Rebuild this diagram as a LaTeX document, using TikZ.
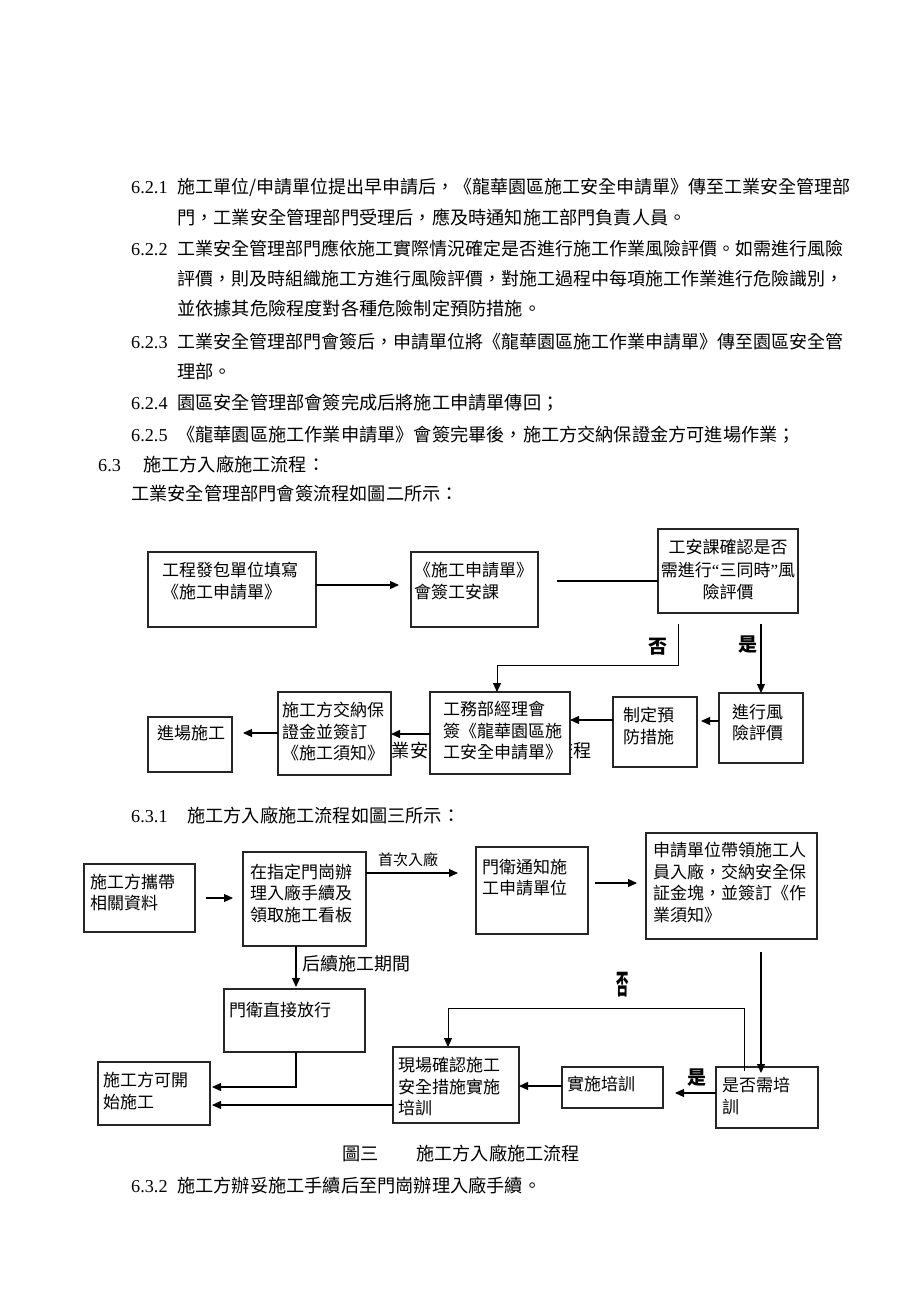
\documentclass[tikz,border=0pt]{standalone}
\usepackage{graphicx}
\usepackage{fontspec}
\setmainfont{Liberation Serif}
\newfontfamily\cjk{Noto Sans CJK TC}
\usetikzlibrary{arrows.meta,calc}
\tikzset{
  box/.style={draw=black!85, line width=1.1pt, fill=white, inner sep=0pt, outer sep=0pt},
  arr/.style={line width=1.2pt, -{Triangle[length=9pt,width=8pt]}},
  thinarr/.style={line width=0.9pt, -{Triangle[length=9pt,width=8pt]}},
  ln/.style={line width=1.1pt},
  tb/.style={font=\cjk\fontsize{17}{21.7}\selectfont, inner sep=0pt, anchor=base west},
  tp/.style={font=\cjk\fontsize{18.2}{29.7}\selectfont, inner sep=0pt, anchor=base west},
  jst/.style={font=\cjk\fontsize{18}{29.7}\selectfont, inner sep=0pt, text width=678pt, align=justify},
  num/.style={font=\fontsize{18.2}{22}\selectfont, inner sep=0pt, anchor=base west},
  yes/.style={font=\cjk\bfseries\fontsize{19}{22}\selectfont, inner sep=0pt},
  small/.style={font=\cjk\fontsize{15}{18}\selectfont, inner sep=0pt, anchor=base west},
}
\newcommand\bx[5]{\node[box, minimum width={(#4)-(#2)}, minimum height={(#5)-(#3)}] (#1) at ({((#2)+(#4))/2},{((#3)+(#5))/2}) {};}
\newcommand\tl[4]{\foreach \tx [count=\i] in {#4}{\node[tb] (#1-\i) at ({#2},{#3+(\i-1)*21.7}) {\tx};}}
\newcommand\jline{\XeTeXlinebreaklocale "zh"\XeTeXlinebreakskip=0pt plus 12pt\parfillskip=0pt\tolerance=10000\hbadness=10000\pretolerance=10000\relax}
\begin{document}
\begin{tikzpicture}[x=1pt,y=-1pt]
\fill[white] (0,0) rectangle (920,1302);
\useasboundingbox (0,0) rectangle (920,1302);

% ---------- paragraph text ----------
\node[num] (n621) at (131,193) {6.2.1};
\node[jst, anchor=base west] (p1) at (177,193) {\jline 施工單位/申請單位提出早申請后，《龍華園區施工安全申請單》傳至工業安全管理部};
\node[tp] (p2) at (177,224) {門，工業安全管理部門受理后，應及時通知施工部門負責人員。};
\node[num] (n622) at (131,255) {6.2.2};
\node[jst, anchor=base west] (p3) at (177,255) {\jline 工業安全管理部門應依施工實際情況確定是否進行施工作業風險評價。如需進行風險};
\node[jst, anchor=base west] (p4) at (177,285) {\jline 評價，則及時組織施工方進行風險評價，對施工過程中每項施工作業進行危險識別，};
\node[tp] (p5) at (177,315) {並依據其危險程度對各種危險制定預防措施。};
\node[num] (n623) at (131,348) {6.2.3};
\node[jst, anchor=base west] (p6) at (177,348) {\jline 工業安全管理部門會簽后，申請單位將《龍華園區施工作業申請單》傳至園區安全管};
\node[tp] (p7) at (177,378) {理部。};
\node[num] (n624) at (131,409) {6.2.4};
\node[tp] (p8) at (177,409) {園區安全管理部會簽完成后將施工申請單傳回；};
\node[num] (n625) at (131,441) {6.2.5};
\node[tp] (p9) at (177,441) {《龍華園區施工作業申請單》會簽完畢後，施工方交納保證金方可進場作業；};
\node[num] (n63) at (98,471) {6.3};
\node[tp] (p10) at (143,471) {施工方入廠施工流程：};
\node[tp] (p11) at (131,500) {工業安全管理部門會簽流程如圖二所示：};

% hidden caption behind boxes
\node[tp] (cap2) at (373.5,757) {工業安全管理部門會簽流程};

% ---------- diagram 1 ----------
\bx{A}{148}{552}{316}{627}
\bx{B}{411}{552}{538}{627}
\bx{C}{658}{529}{798}{613}
\bx{D}{278}{692}{391}{775}
\bx{E}{430}{692}{570}{774}
\bx{F}{719}{693}{803}{763}
\bx{G}{613}{697}{697}{767}
\bx{H}{148}{717}{232}{772}

\tl{ta}{162}{576.5}{工程發包單位填寫,《施工申請單》}
\tl{tbb}{414}{576.5}{《施工申請單》,會簽工安課}
\node[tb, anchor=base] (tc1) at (728,553) {工安課確認是否};
\node[tb, anchor=base] (tc2) at (728,576.5) {需進行{\rmfamily “}三同時{\rmfamily ”}風};
\node[tb, anchor=base] (tc3) at (728,598.2) {險評價};
\tl{td}{282}{716.5}{施工方交納保,證金並簽訂,《施工須知》}
\tl{te}{443}{715.5}{工務部經理會,簽《龍華園區施,工安全申請單》}
\tl{tf}{732}{718}{進行風,險評價}
\tl{tg}{623}{721.5}{制定預,防措施}
\tl{th}{157}{739.5}{進場施工}

\draw[arr, shorten >=12pt] (A.east |- 0,585) -- (B.west |- 0,585);
\draw[ln, shorten <=19pt] (B.east |- 0,581) -- (C.west |- 0,581);
\draw[thinarr] ($(C.south -| 678,0)+(0,11)$) |- (497,665) -- (E.north -| 497,0);
\draw[arr] ($(C.south -| 761,0)+(0,11)$) -- (F.north -| 761,0);
\draw[arr, shorten >=4pt] (F.west |- 0,721) -- (G.east |- 0,721);
\draw[arr] (G.west |- 0,720) -- (E.east |- 0,720);
\draw[arr] (E.west |- 0,734) -- (D.east |- 0,734);
\draw[arr, shorten >=11pt] (D.west |- 0,733) -- (H.east |- 0,733);
\node[yes] (no1) at (658,647) {否};
\node[yes] (yes1) at (748,645) {是};

% ---------- 6.3.1 ----------
\node[num] (n631) at (131,822) {6.3.1};
\node[tp] (p12) at (187,822) {施工方入廠施工流程如圖三所示：};

% ---------- diagram 2 ----------
\bx{n1}{84}{864}{195}{932}
\bx{n2}{243}{852}{366}{946}
\bx{n3}{476}{847}{588}{934}
\bx{n4}{646}{833}{817}{939}
\bx{n5}{224}{989}{365}{1052}
\bx{n6}{98}{1062}{210}{1125}
\bx{n7}{393}{1047}{519}{1123}
\bx{n8}{562}{1067}{663}{1108}
\bx{n9}{716}{1067}{818}{1128}

\tl{t1}{90}{888}{施工方攜帶,相關資料}
\tl{t2}{250}{878}{在指定門崗辦,理入廠手續及,領取施工看板}
\tl{t3}{482}{873}{門衛通知施,工申請單位}
\tl{t4}{653}{856.5}{申請單位帶領施工人,員入廠，交納安全保,証金塊，並簽訂《作,業須知》}
\tl{t5}{229}{1016.5}{門衛直接放行}
\tl{t6}{103}{1086.5}{施工方可開,始施工}
\tl{t7}{398}{1071.5}{現場確認施工,安全措施實施,培訓}
\tl{t8}{567}{1090}{實施培訓}
\tl{t9}{722}{1091.5}{是否需培,訓}

\draw[arr, shorten <=11pt, shorten >=10pt] (n1.east |- 0,898) -- (n2.west |- 0,898);
\draw[arr, shorten >=18pt] (n2.east |- 0,873) -- (n3.west |- 0,873);
\draw[arr, shorten <=7pt, shorten >=9pt] (n3.east |- 0,883) -- (n4.west |- 0,883);
\draw[arr, shorten >=2pt] (n2.south -| 296,0) -- (n5.north -| 296,0);
\draw[arr, shorten >=2pt] (n5.south -| 296,0) |- (n6.east |- 0,1087);
\draw[arr, shorten >=2pt] (n7.west |- 0,1105) -- (n6.east |- 0,1105);
\draw[arr] (n8.west |- 0,1086) -- (n7.east |- 0,1086);
\draw[arr, shorten >=12pt] (n9.west |- 0,1093) -- (n8.east |- 0,1093);
\draw[arr, shorten <=13pt, shorten >=-6pt] (n4.south -| 761,0) -- (n9.north -| 761,0);
\draw[thinarr] ($(n9.north -| 744,0)+(0,4)$) |- (448,1008) -- (n7.north -| 448,0);

\node[small] (first) at (378,865) {首次入廠};
\node[tp, font=\cjk\fontsize{18}{22}\selectfont] (later) at (302,970) {后續施工期間};
\node[yes] (no2) at (623,985) {\scalebox{0.65}[1.45]{否}};
\node[yes] (yes2) at (697,1078) {是};

% ---------- caption & 6.3.2 ----------
\node[tp] (cap3a) at (342,1160) {圖三};
\node[tp] (cap3b) at (416,1160) {施工方入廠施工流程};
\node[num] (n632) at (131,1192) {6.3.2};
\node[tp] (p13) at (177,1192) {施工方辦妥施工手續后至門崗辦理入廠手續。};
\end{tikzpicture}
\end{document}
